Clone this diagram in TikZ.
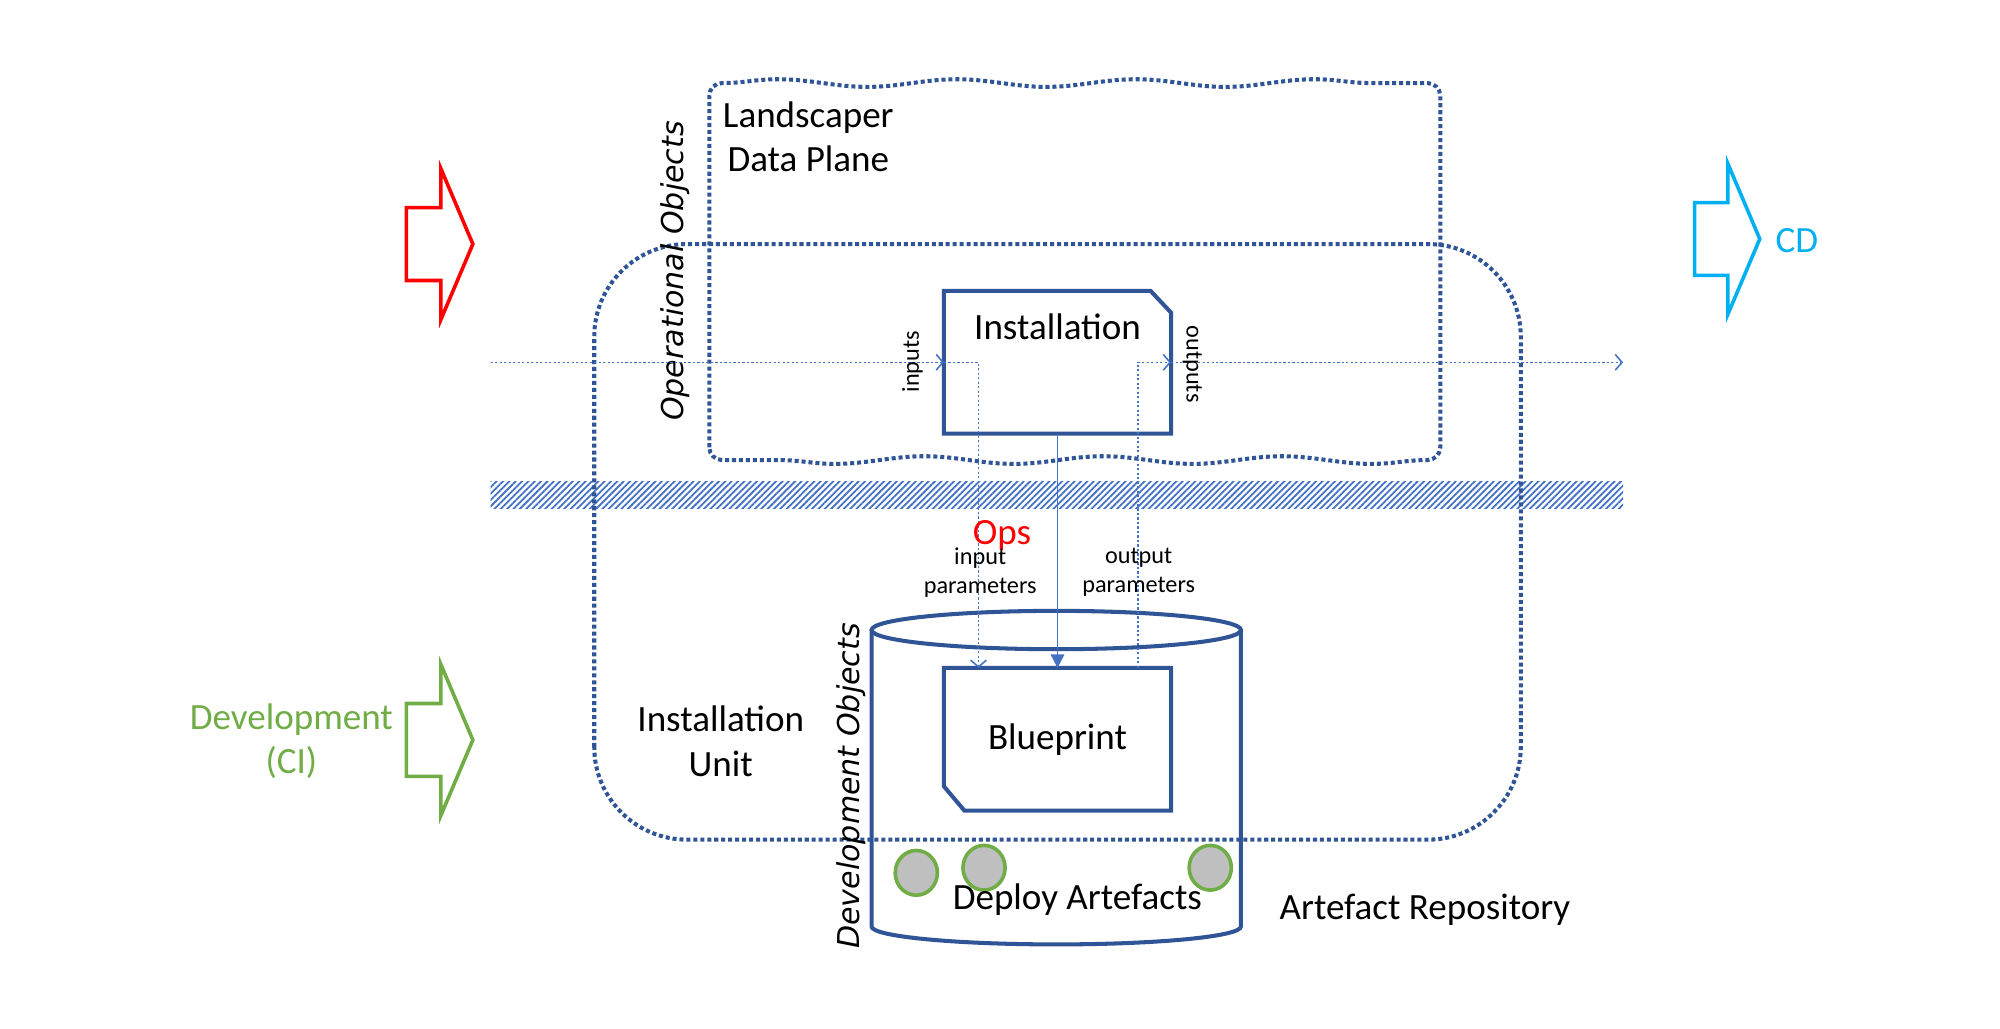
\documentclass[tikz,border=0pt]{standalone}
\usepackage{fontspec}
\setmainfont{Carlito}
\newfontfamily\objfont{DejaVu Sans}
\usetikzlibrary{arrows.meta, decorations.pathmorphing, patterns.meta}

\definecolor{darkblue}{RGB}{47,85,151}
\definecolor{lightblue}{RGB}{68,114,196}
\definecolor{devgreen}{RGB}{112,173,71}
\definecolor{cdcyan}{RGB}{0,176,240}
\definecolor{artgray}{RGB}{191,191,191}

\begin{document}
\begin{tikzpicture}[
        bigfont/.style={font=\fontsize{16.5}{20}\selectfont, align=center, inner sep=0pt},
        smallfont/.style={font=\fontsize{10.8}{13}\selectfont, align=center, inner sep=0pt},
        objtext/.style={font=\objfont\itshape\fontsize{13.4}{16}\selectfont, inner sep=0pt},
        dotbox/.style={draw=darkblue, line width=1.8pt, dash pattern=on 1.8pt off 1.3pt},
        flowline/.style={draw=lightblue, line width=0.7pt, dash pattern=on 1pt off 1pt, -{Straight Barb[length=3pt,width=7pt]}},
        ctrlline/.style={draw=lightblue, line width=0.8pt, -{Triangle[length=6pt,width=6pt]}},
        objline/.style={draw=darkblue, line width=1.8pt, line join=miter},
        objnode/.style={minimum width=3.54cm, minimum height=2.22cm, inner sep=0pt},
        blockarrow/.style={line width=1.6pt, line join=miter},
        wave/.style={decoration={snake, amplitude=0.06cm, segment length=2.8cm}}
    ]
        \useasboundingbox (0,0) rectangle (31.3,16.1);

        % Ops / Dev separator
        \fill[pattern={Lines[angle=45,distance=2pt,line width=0.8pt]}, pattern color=lightblue]
            (7.68,8.14) rectangle (25.40,8.56);

        % Landscaper data plane
        \draw[dotbox] (11.10,9.10) -- (11.10,14.60) arc[start angle=180, end angle=90, radius=0.2]
            decorate[wave] {-- (22.34,14.80)} arc[start angle=90, end angle=0, radius=0.2]
            -- (22.54,9.10) arc[start angle=0, end angle=-90, radius=0.2]
            decorate[wave] {-- (11.30,8.90)} arc[start angle=270, end angle=180, radius=0.2] -- cycle;
        \node[bigfont] (ldp) at (12.65,13.96) {Landscaper\\Data Plane};

        % Installation unit
        \draw[dotbox, rounded corners=1.45cm] (9.30,2.96) rectangle (23.80,12.28);
        \node[bigfont] (iunit) at (11.28,4.50) {Installation\\Unit};

        % Object groups
        \node[objtext, rotate=90] (opobj) at (10.56,11.86) {Operational Objects};
        \node[objtext, rotate=90] (devobj) at (13.32,3.80) {Development Objects};

        % Artefact repository
        \draw[objline] (13.64,6.24) -- (13.64,1.60) arc[start angle=180, end angle=360, x radius=2.89, y radius=0.28] -- (19.42,6.24);
        \draw[objline] (16.53,6.24) ellipse [x radius=2.89, y radius=0.30];
        \draw[draw=devgreen, fill=artgray, line width=1.6pt] (14.34,2.44) ellipse [x radius=0.33, y radius=0.35];
        \draw[draw=devgreen, fill=artgray, line width=1.6pt] (15.40,2.52) ellipse [x radius=0.33, y radius=0.35];
        \draw[draw=devgreen, fill=artgray, line width=1.6pt] (18.94,2.52) ellipse [x radius=0.33, y radius=0.35];
        \node[bigfont] (deploy) at (16.86,2.02) {Deploy Artefacts};
        \node[bigfont] (repo) at (22.30,1.86) {Artefact Repository};

        % Installation and Blueprint
        \node[objnode] (inst) at (16.55,10.43) {};
        \draw[objline] (inst.south west) -- (inst.north west) -- ([xshift=-0.32cm]inst.north east)
            -- ([yshift=-0.34cm]inst.north east) -- (inst.south east) -- cycle;
        \node[bigfont] (instlabel) at ([yshift=-0.56cm]inst.north) {Installation};

        \node[objnode, bigfont] (bp) at (16.55,4.53) {Blueprint};
        \draw[objline] (bp.north west) -- (bp.north east) -- (bp.south east)
            -- ([xshift=0.32cm]bp.south west) -- ([yshift=0.38cm]bp.south west) -- cycle;

        % Data flow
        \coordinate (flowin) at (7.68,10.43);
        \coordinate (flowout) at (25.40,10.43);
        \coordinate (bpin) at ([xshift=0.54cm]bp.north west);
        \coordinate (bpout) at ([xshift=-0.52cm]bp.north east);
        \draw[flowline] (flowin) -- (inst.west);
        \draw[flowline] (inst.west) -| (bpin);
        \draw[flowline] (bpout) |- (inst.east);
        \draw[flowline] (inst.east) -- (flowout);
        \draw[ctrlline] (inst.south) -- (bp.north);

        \node[smallfont, rotate=90] (inlabel) at (14.28,10.44) {inputs};
        \node[smallfont, rotate=-90] (outlabel) at (18.66,10.40) {outputs};
        \node[bigfont, text=red] (ops) at (15.68,7.72) {Ops};
        \node[smallfont] (inparam) at (15.34,7.14) {input\\parameters};
        \node[smallfont] (outparam) at (17.82,7.14) {output\\parameters};

        % Block arrows
        \draw[blockarrow, draw=red, shift={(6.36,12.28)}]
            (0,0.57) -- (0.54,0.57) -- (0.54,1.18) -- (1.04,0) -- (0.54,-1.18) -- (0.54,-0.57) -- (0,-0.57) -- cycle;
        \draw[blockarrow, draw=devgreen, shift={(6.36,4.52)}]
            (0,0.57) -- (0.54,0.57) -- (0.54,1.18) -- (1.04,0) -- (0.54,-1.18) -- (0.54,-0.57) -- (0,-0.57) -- cycle;
        \draw[blockarrow, draw=cdcyan, shift={(26.52,12.36)}]
            (0,0.57) -- (0.52,0.57) -- (0.52,1.18) -- (1.02,0) -- (0.52,-1.18) -- (0.52,-0.57) -- (0,-0.57) -- cycle;

        \node[bigfont, text=devgreen] (dev) at (4.56,4.50) {Development\\(CI)};
        \node[bigfont, text=cdcyan, anchor=west] (cd) at (27.78,12.34) {CD};
    \end{tikzpicture}
\end{document}
